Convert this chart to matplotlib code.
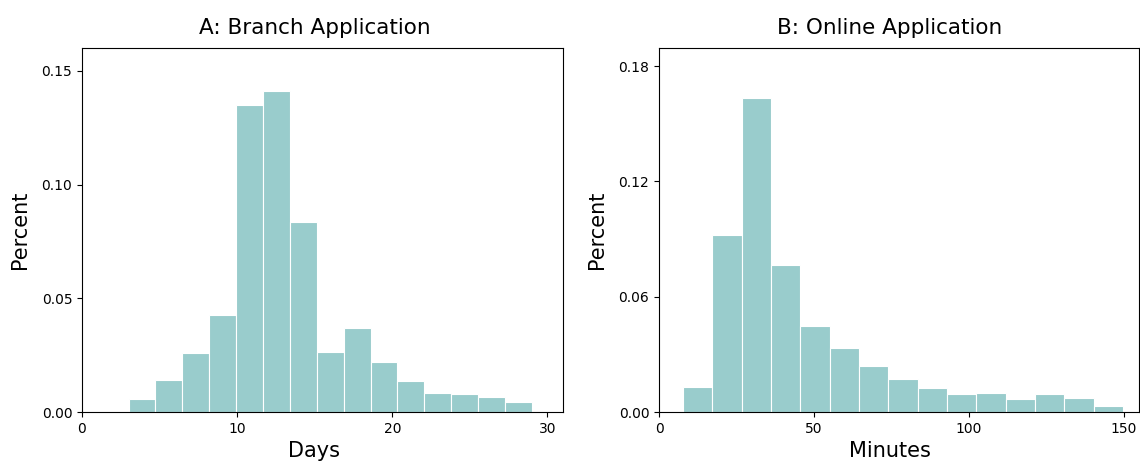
import numpy as np
import matplotlib.pyplot as plt
from matplotlib.ticker import FormatStrFormatter

# Panel A: branch application, days
branch_edges = np.linspace(3, 29, 16)
branch_pct = [0.0058, 0.0142, 0.0258, 0.0428, 0.1348, 0.1413, 0.0835, 0.0262,
              0.0369, 0.0220, 0.0136, 0.0082, 0.0077, 0.0067, 0.0045]

# Panel B: online application, minutes
online_edges = np.linspace(7.7, 149.8, 16)
online_pct = [0.0130, 0.0919, 0.1634, 0.0765, 0.0445, 0.0333, 0.0239, 0.0173,
              0.0123, 0.0092, 0.0097, 0.0069, 0.0092, 0.0074, 0.0031]

bar_color = "#99cccc"

fig = plt.figure(figsize=(11.4, 4.62), dpi=100)
ax1 = fig.add_axes([82 / 1140, 1 - 412 / 462, 481 / 1140, 364 / 462])
ax2 = fig.add_axes([659 / 1140, 1 - 412 / 462, 480 / 1140, 364 / 462])

panels = [
    (ax1, branch_edges, branch_pct, "A: Branch Application", "Days", (0, 31), (0, 0.16), [0, 0.05, 0.10, 0.15], [0, 10, 20, 30], 0.483),
    (ax2, online_edges, online_pct, "B: Online Application", "Minutes", (0, 155), (0, 0.1894), [0, 0.06, 0.12, 0.18], [0, 50, 100, 150], 0.481),
]

for ax, edges, pct, title, xlabel, xlim, ylim, yticks, xticks, xc in panels:
    ax.bar(edges[:-1], pct, width=np.diff(edges), align="edge",
           color=bar_color, edgecolor="white", linewidth=0.8)
    ax.set_title(title, fontsize=15.5, pad=10, x=xc)
    ax.set_xlabel(xlabel, fontsize=15)
    ax.xaxis.label.set_x(xc)
    ax.set_ylabel("Percent", fontsize=15, labelpad=8)
    ax.set_xlim(*xlim)
    ax.set_ylim(*ylim)
    ax.set_yticks(yticks)
    ax.set_xticks(xticks)
    ax.yaxis.set_major_formatter(FormatStrFormatter("%.2f"))
    ax.tick_params(labelsize=10)

fig.savefig("out.png", dpi=100)
